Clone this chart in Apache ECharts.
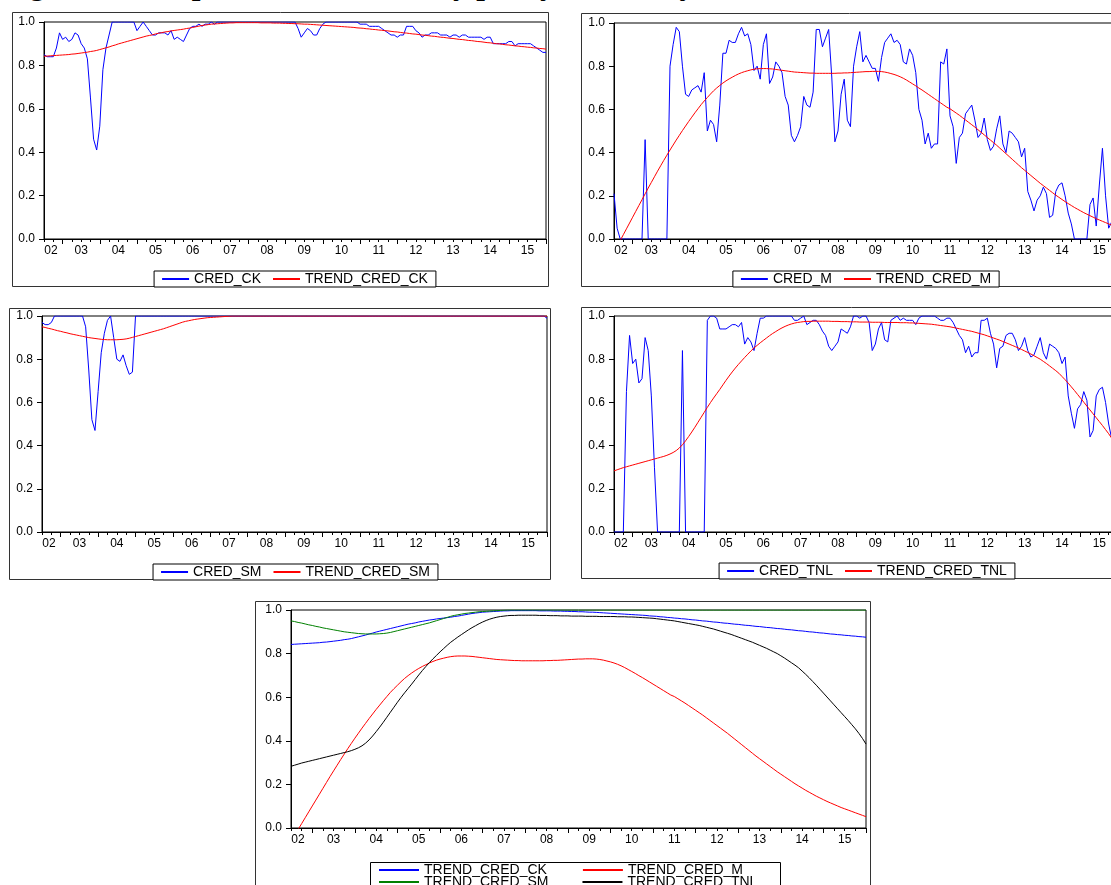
<!DOCTYPE html>
<html><head><meta charset="utf-8">
<script src="https://cdn.jsdelivr.net/npm/echarts@6/dist/echarts.min.js"></script>
<style>
html,body{margin:0;padding:0;background:#fff;overflow:hidden;width:1111px;height:885px;position:relative;}
.panel{position:absolute;}
#title{position:absolute;left:2px;top:-32px;font:bold 31px "Liberation Serif","Times New Roman",serif;white-space:nowrap;line-height:31px;color:#000;}
</style></head><body>
<div id="title">Figure 2. Comparison of credibility policy indices by sector</div>
<div id="p1" class="panel"></div>
<div id="p2" class="panel"></div>
<div id="p3" class="panel"></div>
<div id="p4" class="panel"></div>
<div id="p5" class="panel"></div>
<script>
// ---------- data (monthly, 163 observations) ----------
const yearLabels = ['02','03','04','05','06','07','08','09','10','11','12','13','14','15'];

const credCK = [
0.85,0.84,0.84,0.84,0.88,0.95,0.92,0.93,0.91,0.92,0.95,0.94,
0.90,0.88,0.83,0.65,0.46,0.41,0.52,0.78,0.88,0.94,1,1,
1,1,1,1,1,1,0.96,0.98,1,0.98,0.96,0.94,
0.94,0.95,0.95,0.95,0.94,0.96,0.92,0.93,0.92,0.91,0.94,0.97,
0.98,0.98,0.99,0.98,0.99,0.99,1,0.99,1,1,1,1,
1,1,1,1,1,1,1,1,1,1,1,1,
1,1,1,1,1,1,1,1,1,1,0.97,0.93,
0.95,0.97,0.96,0.94,0.94,0.97,0.99,1,1,1,1,1,
1,1,1,1,1,1,0.99,0.99,0.99,0.98,0.98,0.98,
0.98,0.97,0.96,0.95,0.94,0.94,0.93,0.94,0.94,0.98,0.98,0.98,
0.96,0.95,0.93,0.94,0.94,0.95,0.95,0.95,0.94,0.94,0.94,0.93,
0.94,0.94,0.93,0.94,0.94,0.93,0.93,0.93,0.93,0.93,0.92,0.93,
0.93,0.90,0.90,0.90,0.90,0.90,0.91,0.91,0.89,0.90,0.90,0.90,
0.90,0.90,0.89,0.88,0.87,0.86,0.86];

const trendCK = [
0.842,0.843,0.844,0.845,0.846,0.847,0.848,0.849,0.850,0.852,0.853,0.855,
0.857,0.859,0.861,0.864,0.866,0.869,0.873,0.877,0.881,0.885,0.890,0.894,
0.899,0.903,0.907,0.911,0.915,0.919,0.923,0.927,0.931,0.935,0.938,0.941,
0.945,0.948,0.951,0.954,0.956,0.959,0.961,0.963,0.965,0.967,0.970,0.972,
0.975,0.978,0.981,0.984,0.986,0.988,0.990,0.991,0.992,0.993,0.994,0.995,
0.996,0.996,0.997,0.997,0.997,0.997,0.997,0.997,0.997,0.997,0.996,0.996,
0.996,0.996,0.995,0.995,0.995,0.994,0.994,0.993,0.993,0.992,0.992,0.991,
0.990,0.990,0.989,0.988,0.987,0.986,0.985,0.984,0.983,0.982,0.981,0.980,
0.979,0.978,0.977,0.976,0.975,0.973,0.972,0.971,0.969,0.968,0.966,0.965,
0.963,0.962,0.960,0.959,0.957,0.955,0.954,0.952,0.950,0.949,0.947,0.945,
0.944,0.942,0.940,0.939,0.937,0.935,0.934,0.932,0.930,0.929,0.927,0.925,
0.924,0.922,0.920,0.919,0.917,0.915,0.914,0.912,0.910,0.909,0.907,0.905,
0.904,0.902,0.900,0.899,0.897,0.895,0.894,0.892,0.890,0.889,0.887,0.886,
0.884,0.883,0.881,0.880,0.878,0.877,0.875];

const credM = [
0.21,0.05,0,0,0,0,0,0,0,0,0.46,0,
0,0,0,0,0,0,0.80,0.90,0.98,0.96,0.80,0.67,
0.66,0.69,0.70,0.71,0.68,0.77,0.50,0.55,0.53,0.45,0.62,0.86,
0.86,0.92,0.91,0.91,0.95,0.98,0.94,0.95,0.90,0.78,0.80,0.74,
0.90,0.95,0.72,0.75,0.82,0.80,0.77,0.66,0.62,0.48,0.45,0.48,
0.52,0.66,0.62,0.61,0.68,0.97,0.97,0.89,0.93,0.97,0.75,0.45,
0.50,0.67,0.74,0.55,0.52,0.80,0.89,0.96,0.82,0.85,0.82,0.79,
0.79,0.73,0.84,0.91,0.93,0.95,0.91,0.92,0.90,0.82,0.81,0.88,
0.85,0.77,0.60,0.55,0.44,0.49,0.42,0.44,0.44,0.82,0.81,0.88,
0.57,0.52,0.35,0.47,0.49,0.58,0.60,0.62,0.55,0.47,0.49,0.56,
0.46,0.41,0.43,0.51,0.57,0.44,0.40,0.50,0.49,0.47,0.45,0.38,
0.42,0.22,0.18,0.13,0.18,0.20,0.24,0.21,0.10,0.11,0.22,0.25,
0.26,0.20,0.12,0.07,0,0,0,0,0,0.16,0.19,0.06,
0.25,0.42,0.20,0.05,0.08,0.10,0.12];

const trendM = [
-0.06,-0.034,-0.007,0.02,0.047,0.074,0.101,0.128,0.155,0.182,0.209,0.236,
0.262,0.288,0.314,0.339,0.364,0.388,0.412,0.435,0.458,0.48,0.502,0.523,
0.544,0.564,0.584,0.603,0.622,0.639,0.655,0.671,0.686,0.699,0.711,0.722,
0.732,0.741,0.749,0.757,0.764,0.77,0.775,0.779,0.783,0.786,0.788,0.789,
0.789,0.789,0.788,0.787,0.785,0.783,0.781,0.779,0.777,0.775,0.773,0.772,
0.771,0.77,0.769,0.768,0.768,0.767,0.767,0.767,0.767,0.767,0.767,0.767,
0.768,0.768,0.769,0.769,0.77,0.771,0.772,0.773,0.774,0.775,0.775,0.776,
0.776,0.776,0.775,0.773,0.77,0.766,0.762,0.757,0.751,0.744,0.736,0.727,
0.718,0.709,0.699,0.69,0.68,0.67,0.66,0.65,0.64,0.63,0.62,0.61,
0.603,0.593,0.583,0.573,0.562,0.551,0.54,0.529,0.518,0.506,0.494,0.482,
0.47,0.458,0.446,0.434,0.421,0.408,0.395,0.382,0.369,0.356,0.343,0.33,
0.318,0.306,0.294,0.282,0.27,0.258,0.247,0.236,0.225,0.214,0.203,0.193,
0.183,0.173,0.164,0.155,0.146,0.138,0.13,0.122,0.115,0.108,0.101,0.094,
0.088,0.082,0.076,0.07,0.064,0.058,0.052];

const credSM = [
0.97,0.96,0.96,0.97,1,1,1,1,1,1,1,1,
1,1,0.95,0.75,0.52,0.47,0.65,0.83,0.92,0.98,1,0.90,
0.80,0.79,0.82,0.77,0.73,0.74,1,1,1,1,1,1,
1,1,1,1,1,1,1,1,1,1,1,1,
1,1,1,1,1,1,1,1,1,1,1,1,
1,1,1,1,1,1,1,1,1,1,1,1,
1,1,1,1,1,1,1,1,1,1,1,1,
1,1,1,1,1,1,1,1,1,1,1,1,
1,1,1,1,1,1,1,1,1,1,1,1,
1,1,1,1,1,1,1,1,1,1,1,1,
1,1,1,1,1,1,1,1,1,1,1,1,
1,1,1,1,1,1,1,1,1,1,1,1,
1,1,1,1,1,1,1,1,1,1,1,1,
1,1,1,1,1,1,0.99];

const trendSM = [
0.95,0.947,0.943,0.94,0.936,0.932,0.929,0.925,0.922,0.918,0.915,0.912,
0.909,0.906,0.903,0.9,0.898,0.896,0.894,0.892,0.891,0.89,0.89,0.89,
0.89,0.891,0.892,0.894,0.897,0.901,0.905,0.909,0.913,0.917,0.921,0.925,
0.929,0.933,0.937,0.941,0.946,0.951,0.956,0.961,0.966,0.971,0.975,0.978,
0.981,0.984,0.986,0.988,0.99,0.992,0.993,0.994,0.995,0.996,0.997,0.998,
0.999,1,1,1,1,1,1,1,1,1,1,1,
1,1,1,1,1,1,1,1,1,1,1,1,
1,1,1,1,1,1,1,1,1,1,1,1,
1,1,1,1,1,1,1,1,1,1,1,1,
1,1,1,1,1,1,1,1,1,1,1,1,
1,1,1,1,1,1,1,1,1,1,1,1,
1,1,1,1,1,1,1,1,1,1,1,1,
1,1,1,1,1,1,1,1,1,1,1,1,
1,1,1,1,1,1,1];

const credTNL = [
0,0,0,0,0.65,0.91,0.78,0.80,0.69,0.71,0.90,0.84,
0.63,0.30,0,0,0,0,0,0,0,0,0.84,0,
0,0,0,0,0,0,0.98,1,1,0.99,0.94,0.94,
0.94,0.95,0.96,0.96,0.95,0.97,0.87,0.90,0.88,0.84,0.92,0.99,
0.99,1,1,1,1,1,1,1,1,1,0.98,0.98,
0.99,1,0.96,0.97,0.98,0.98,0.96,0.93,0.91,0.86,0.84,0.86,
0.88,0.94,0.93,0.92,0.95,1,1,0.99,1,1,0.97,0.84,
0.87,0.94,0.97,0.89,0.88,0.98,0.99,1,0.98,0.99,0.98,0.98,
0.98,0.96,0.99,1,1,1,1,1,0.99,0.98,0.98,0.99,
0.99,0.97,0.94,0.91,0.89,0.83,0.86,0.81,0.83,0.83,0.98,0.98,
0.99,0.92,0.87,0.76,0.85,0.86,0.91,0.92,0.92,0.89,0.84,0.86,
0.90,0.84,0.81,0.82,0.86,0.90,0.83,0.80,0.87,0.86,0.85,0.83,
0.78,0.81,0.63,0.55,0.48,0.57,0.59,0.65,0.61,0.44,0.47,0.63,
0.66,0.67,0.60,0.50,0.43,0.46,0.50];

const trendTNL = [
0.283,0.288,0.293,0.298,0.302,0.306,0.31,0.314,0.318,0.322,0.326,0.33,
0.334,0.338,0.342,0.346,0.35,0.355,0.361,0.368,0.377,0.389,0.404,0.422,
0.442,0.463,0.485,0.508,0.531,0.554,0.577,0.599,0.62,0.64,0.66,0.681,
0.702,0.722,0.741,0.759,0.776,0.792,0.808,0.823,0.838,0.852,0.864,0.876,
0.887,0.898,0.909,0.919,0.928,0.937,0.945,0.952,0.958,0.963,0.967,0.97,
0.972,0.974,0.975,0.975,0.976,0.976,0.976,0.976,0.976,0.976,0.975,0.975,
0.975,0.974,0.974,0.974,0.973,0.973,0.973,0.972,0.972,0.972,0.972,0.971,
0.971,0.971,0.971,0.97,0.97,0.97,0.97,0.97,0.969,0.969,0.969,0.968,
0.968,0.967,0.966,0.965,0.964,0.963,0.962,0.96,0.958,0.956,0.954,0.952,
0.95,0.947,0.944,0.941,0.938,0.935,0.932,0.929,0.925,0.921,0.917,0.913,
0.908,0.903,0.898,0.893,0.888,0.882,0.876,0.87,0.864,0.858,0.852,0.845,
0.838,0.831,0.824,0.816,0.808,0.8,0.79,0.78,0.769,0.758,0.747,0.735,
0.72,0.705,0.689,0.672,0.655,0.637,0.619,0.601,0.583,0.565,0.547,0.529,
0.511,0.493,0.474,0.455,0.434,0.411,0.385];

// category labels: one per month, July 2002 onward
const categories = [];
for (let k = 0; k < credCK.length; k++) {
  const m = 6 + k;
  categories.push((2002 + Math.floor(m / 12)) + '-' + String(m % 12 + 1).padStart(2, '0'));
}

// ---------- styling helpers ----------
const FONT = '"Liberation Sans", Arial, sans-serif';
const BLUE = '#0000ff', RED = '#ff0000', GREEN = '#008000', BLACK = '#000000';
const AXIS_FS = 12;

function xAxes() {
  return [{
    type: 'category', data: categories, boundaryGap: false, gridIndex: 0,
    axisLine: { show: true, lineStyle: { color: '#000', width: 1 } },
    axisTick: { show: true, length: 3, interval: (i) => i % 3 === 0, lineStyle: { color: '#000' } },
    axisLabel: {
      show: true, interval: (i) => i % 12 === 0, margin: 6,
      color: '#000', fontSize: AXIS_FS, fontFamily: FONT,
      formatter: (v, i) => i === 0 ? '{first|' + yearLabels[0] + '}' : yearLabels[i / 12],
      rich: { first: { padding: [0, 0, 0, 14], fontSize: AXIS_FS, fontFamily: FONT, color: '#000' } }
    },
    splitLine: { show: false }
  }, {
    type: 'category', data: categories, boundaryGap: false, gridIndex: 0, position: 'bottom',
    axisLine: { show: false },
    axisTick: { show: true, length: 5, interval: (i) => i % 12 === 6, lineStyle: { color: '#000' } },
    axisLabel: { show: false }, splitLine: { show: false }
  }];
}
function yAxis() {
  return {
    type: 'value', min: 0, max: 1, interval: 0.2,
    axisLine: { show: true, lineStyle: { color: '#000', width: 1 } },
    axisTick: { show: true, length: 5, lineStyle: { color: '#000' } },
    axisLabel: { margin: 9, color: '#000', fontSize: AXIS_FS, fontFamily: FONT, formatter: (v) => v.toFixed(1) },
    splitLine: { show: false }
  };
}
function line(name, data, color) {
  return {
    type: 'line', name: name, data: data, xAxisIndex: 0, yAxisIndex: 0,
    showSymbol: false, symbol: 'none', smooth: false, clip: true,
    lineStyle: { color: color, width: 1 }, itemStyle: { color: color },
    emphasis: { disabled: true }, animation: false
  };
}
// items: [[name, color], ...]
function legendCfg(top, items, opts) {
  opts = opts || {};
  return {
    top: top, left: opts.left === undefined ? 'center' : opts.left, orient: 'horizontal',
    data: items.map(([n, c]) => ({ name: n, itemStyle: { color: c, borderWidth: 0 }, lineStyle: { color: c } })),
    icon: 'rect', itemWidth: opts.itemWidth || 27, itemHeight: 2, itemGap: opts.itemGap || 12,
    padding: opts.padding || [1, 8, 1, 8],
    borderColor: opts.noBorder ? 'transparent' : '#000', borderWidth: opts.noBorder ? 0 : 1,
    backgroundColor: opts.noBorder ? 'transparent' : '#fff',
    textStyle: { color: '#000', fontSize: opts.fontSize || 14, fontFamily: FONT },
    selectedMode: false
  };
}

function makePanel(id, box, frame, grid, series, legends, extraGraphics) {
  const el = document.getElementById(id);
  el.style.left = box.left + 'px'; el.style.top = box.top + 'px';
  el.style.width = box.width + 'px'; el.style.height = box.height + 'px';
  const chart = echarts.init(el, null, { renderer: 'canvas' });
  const graphics = [{
    type: 'rect', silent: true, z: -1,
    shape: { x: 0.5, y: 0.5, width: frame.w, height: frame.h },
    style: { fill: '#fff', stroke: '#333', lineWidth: 1 }
  }].concat(extraGraphics || []);
  chart.setOption({
    animation: false,
    textStyle: { fontFamily: FONT },
    graphic: graphics,
    grid: Object.assign({ show: true, borderColor: '#000', borderWidth: 1, backgroundColor: 'transparent', containLabel: false }, grid),
    xAxis: xAxes(), yAxis: yAxis(),
    legend: legends,
    series: series
  });
}

// top-left
makePanel('p1', { left: 12, top: 12, width: 566, height: 277 }, { w: 536, h: 274 },
  { left: 32, top: 10, width: 502, height: 217 },
  [line('CRED_CK', credCK, BLUE), line('TREND_CRED_CK', trendCK, RED)],
  [legendCfg(259, [['CRED_CK', BLUE], ['TREND_CRED_CK', RED]])]);

// top-right
makePanel('p2', { left: 581, top: 13, width: 570, height: 276 }, { w: 536, h: 273 },
  { left: 33, top: 10, width: 504, height: 216 },
  [line('CRED_M', credM, BLUE), line('TREND_CRED_M', trendM, RED)],
  [legendCfg(258, [['CRED_M', BLUE], ['TREND_CRED_M', RED]])]);

// middle-left
makePanel('p3', { left: 9, top: 308, width: 573, height: 273 }, { w: 541, h: 271 },
  { left: 33, top: 8, width: 505, height: 216 },
  [line('CRED_SM', credSM, BLUE), line('TREND_CRED_SM', trendSM, RED)],
  [legendCfg(256, [['CRED_SM', BLUE], ['TREND_CRED_SM', RED]])]);

// middle-right
makePanel('p4', { left: 581, top: 307, width: 572, height: 273 }, { w: 540, h: 271 },
  { left: 33, top: 9, width: 504, height: 216 },
  [line('CRED_TNL', credTNL, BLUE), line('TREND_CRED_TNL', trendTNL, RED)],
  [legendCfg(256, [['CRED_TNL', BLUE], ['TREND_CRED_TNL', RED]])]);

// bottom: all trends
const lg5opts = { left: 115, itemWidth: 40, padding: [0, 9, 0, 9], noBorder: true, fontSize: 14 };
makePanel('p5', { left: 255, top: 601, width: 647, height: 284 }, { w: 615, h: 300 },
  { left: 36, top: 9, width: 575, height: 218 },
  [line('TREND_CRED_CK', trendCK, BLUE), line('TREND_CRED_M', trendM, RED),
   line('TREND_CRED_SM', trendSM, GREEN), line('TREND_CRED_TNL', trendTNL, BLACK)],
  [legendCfg(262, [['TREND_CRED_CK', BLUE], ['TREND_CRED_M', RED]], Object.assign({ itemGap: 36 }, lg5opts)),
   legendCfg(274, [['TREND_CRED_SM', GREEN], ['TREND_CRED_TNL', BLACK]], Object.assign({ itemGap: 34 }, lg5opts))],
  [{ type: 'rect', silent: true, z: 0, shape: { x: 115.5, y: 261.5, width: 410, height: 40 },
     style: { fill: '#fff', stroke: '#000', lineWidth: 1 } }]);
</script>
</body></html>
